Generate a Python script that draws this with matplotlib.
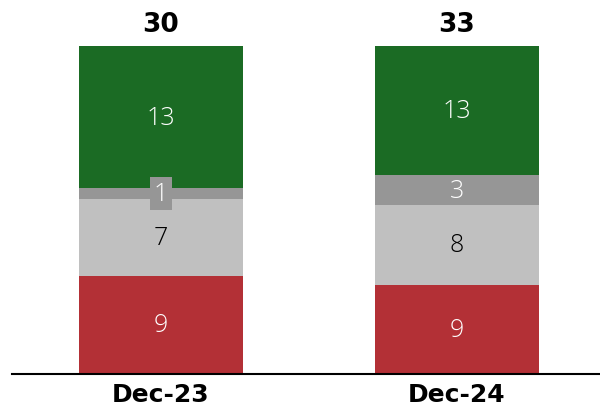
import matplotlib
matplotlib.use("Agg")
import matplotlib.pyplot as plt
import numpy as np

categories = ["Dec-23", "Dec-24"]
seg_red = [9, 9]
seg_light = [7, 8]
seg_dark = [1, 3]
seg_green = [13, 13]
totals = [30, 33]

series = [
    (seg_red, "#b33036", "white"),
    (seg_light, "#c0c0c0", "black"),
    (seg_dark, "#969696", "white"),
    (seg_green, "#1b6b24", "white"),
]

plt.rcParams['font.family'] = ['Open Sans', 'DejaVu Sans']

fig = plt.figure(figsize=(6, 4.1), dpi=100)
ax = fig.add_axes([12/600, 35/410, 588/600, 328/410])

x = np.arange(len(categories))
tot = np.array(totals, dtype=float)
bottom = np.zeros(len(categories))
width = 164/296
for vals, col, tcol in series:
    v = np.array(vals, dtype=float)
    share = v / tot
    ax.bar(x, share, width, bottom=bottom, color=col, edgecolor='none')
    for i in range(len(x)):
        yc = bottom[i] + share[i] / 2
        kw = {}
        if share[i] < 0.05:
            kw['bbox'] = dict(boxstyle='square,pad=0.15', fc=col, ec='none')
        ax.text(x[i], yc, f"{vals[i]}", ha='center', va='center', color=tcol,
                fontsize=18, fontweight='light', **kw)
    bottom += share

for i in range(len(x)):
    ax.text(x[i], 1.0 + 22/328, f"{totals[i]}", ha='center', va='center',
            fontsize=19, fontweight='bold', color='black', clip_on=False,
            family=['DejaVu Sans'])

ax.set_xlim(-149/296, 439/296)
ax.set_ylim(0, 1)
ax.set_xticks(x)
ax.set_xticklabels(categories, fontsize=18, fontweight='bold', family=['DejaVu Sans'])
ax.tick_params(axis='x', length=0, pad=6)
ax.set_yticks([])
for s in ['top', 'right', 'left']:
    ax.spines[s].set_visible(False)
ax.spines['bottom'].set_linewidth(1.5)
ax.spines['bottom'].set_color('black')

fig.savefig("out.png", dpi=100)
